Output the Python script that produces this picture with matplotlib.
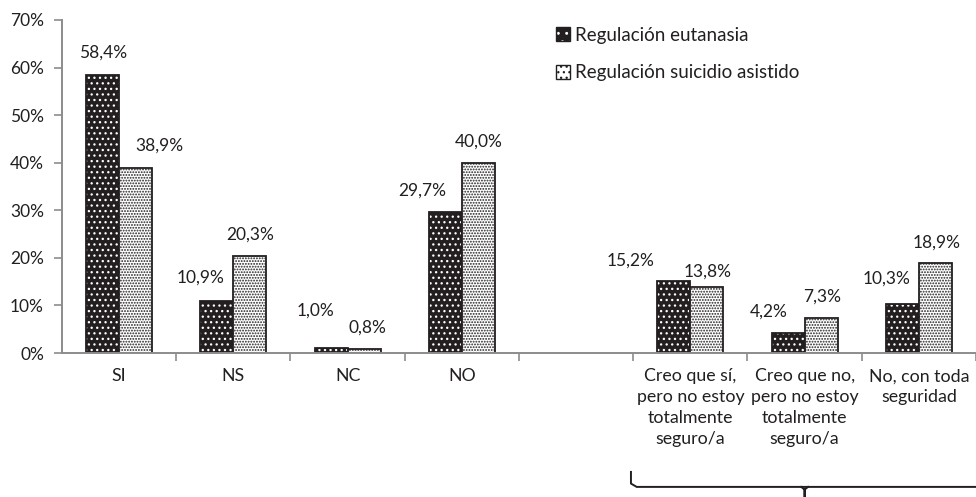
import matplotlib
matplotlib.use('Agg')
import matplotlib.pyplot as plt
import matplotlib.transforms as mtransforms
from matplotlib.patches import Patch
from matplotlib.legend_handler import HandlerTuple
import numpy as np

# datos
categorias = ['SI', 'NS', 'NC', 'NO', '',
              'Creo que sí,\npero no estoy\ntotalmente\nseguro/a',
              'Creo que no,\npero no estoy\ntotalmente\nseguro/a',
              'No, con toda\nseguridad']
eutanasia = [58.4, 10.9, 1.0, 29.7, None, 15.2, 4.2, 10.3]
suicidio = [38.9, 20.3, 0.8, 40.0, None, 13.8, 7.3, 18.9]

# posicion de las etiquetas (como en el original, colocadas a mano)
etiq_eut_dx = [0.0, -0.14, -0.14, -0.20, 0, -0.38, -0.17, -0.135]
etiq_eut_y = [63.1, 15.8, 9.0, 34.1, 0, 19.5, 8.6, 15.6]
etiq_sui_dx = [0.205, 0.0, 0.026, 0.006, 0, 0.01, 0.008, 0.015]
etiq_sui_y = [43.5, 24.8, 5.3, 44.4, 0, 17.2, 11.8, 23.1]

plt.rcParams['font.family'] = ['Lato', 'DejaVu Sans']
plt.rcParams['hatch.linewidth'] = 0.9
txt = '#231f20'
gris = '#8c8c8c'

fig = plt.figure(figsize=(9.76, 4.97), dpi=100)
ax = fig.add_axes([0.0635, 0.2897, 0.9365, 0.6701])

x = np.arange(len(categorias))
w = 0.288
idx = [i for i, v in enumerate(eutanasia) if v is not None]
xe = x[idx] - w / 2
xs = x[idx] + w / 2
ve = [eutanasia[i] for i in idx]
vs = [suicidio[i] for i in idx]

# barras oscuras: fondo negro con puntos blancos
ax.bar(xe, ve, w, color=txt, edgecolor='white', hatch='...', linewidth=0)
ax.bar(xe, ve, w, fill=False, edgecolor=txt, linewidth=1.3)
# barras claras: fondo blanco con puntos negros
ax.bar(xs, vs, w, color='white', edgecolor=txt, hatch='......', linewidth=0)
ax.bar(xs, vs, w, fill=False, edgecolor=txt, linewidth=1.3)

for i in idx:
    ax.text(x[i] - w / 2 + etiq_eut_dx[i], etiq_eut_y[i],
            f'{eutanasia[i]:.1f}%'.replace('.', ','),
            ha='center', va='center', fontsize=12.5, color=txt)
    ax.text(x[i] + w / 2 + etiq_sui_dx[i], etiq_sui_y[i],
            f'{suicidio[i]:.1f}%'.replace('.', ','),
            ha='center', va='center', fontsize=12.5, color=txt)

ax.set_xlim(-0.5, len(categorias) - 0.5)
ax.set_ylim(0, 70)
ax.set_yticks(range(0, 71, 10))
ax.set_yticklabels([f'{t}%' for t in range(0, 71, 10)])
ax.set_xticks(x)
ax.set_xticklabels(categorias, linespacing=1.38)
ax.set_xticks(np.arange(-0.5, len(categorias), 1)[1:], minor=True)
ax.tick_params(axis='x', which='major', length=0, pad=11, labelsize=12.8, labelcolor=txt)
ax.tick_params(axis='x', which='minor', length=6, width=1.2, color=gris, direction='out')
ax.tick_params(axis='y', length=6, width=1.2, color=gris, pad=7, labelsize=12.5, labelcolor=txt)

for s in ['top', 'right']:
    ax.spines[s].set_visible(False)
for s in ['left', 'bottom']:
    ax.spines[s].set_color(gris)
    ax.spines[s].set_linewidth(1.4)

# leyenda
h1 = (Patch(facecolor=txt, edgecolor='white', hatch='..', linewidth=0),
      Patch(facecolor='none', edgecolor=txt, linewidth=1))
h2 = (Patch(facecolor='white', edgecolor=txt, hatch='...', linewidth=0),
      Patch(facecolor='none', edgecolor=txt, linewidth=1))
ax.legend([h1, h2], ['Regulación eutanasia', 'Regulación suicidio asistido'],
          handler_map={tuple: HandlerTuple(ndivide=1, pad=0)},
          loc='upper left', bbox_to_anchor=(0.540, 0.98), frameon=False,
          borderpad=0, borderaxespad=0,
          fontsize=13.5, handlelength=0.75, handleheight=0.75,
          handletextpad=0.3, labelspacing=1.1, labelcolor=txt)

# llave bajo el segundo grupo
tr = mtransforms.blended_transform_factory(ax.transData, ax.transAxes)
ini, fin = 4.5, 7.5
cen = (ini + fin) / 2
ax.plot([ini - 0.02, ini - 0.02, ini + 0.03, fin], [-0.357, -0.392, -0.402, -0.402],
        transform=tr, clip_on=False, color=txt, lw=1.4, solid_joinstyle='round')
ax.plot([cen - 0.03, cen, cen, cen, cen + 0.03], [-0.402, -0.41, -0.44, -0.41, -0.402],
        transform=tr, clip_on=False, color=txt, lw=1.4)

fig.savefig('out.png', dpi=100)
